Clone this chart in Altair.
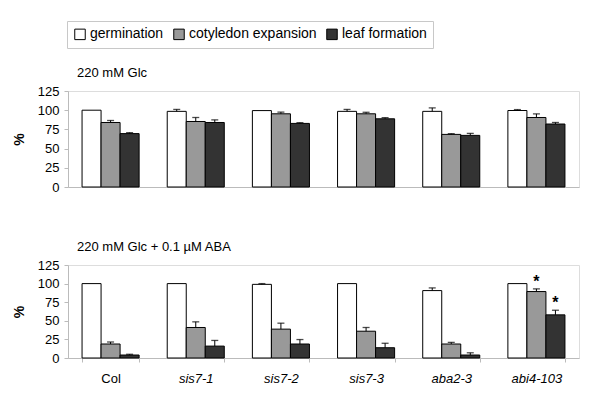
import altair as alt
import pandas as pd

genotypes = ["Col", "sis7-1", "sis7-2", "sis7-3", "aba2-3", "abi4-103"]
series = ["germination", "cotyledon expansion", "leaf formation"]
colors = ["#ffffff", "#999999", "#333333"]

glc_germ = [100, 98.5, 99.5, 98.5, 98.5, 99.6]
glc_germ_err = [0, 2.5, 0, 2.5, 4.5, 1.2]
glc_cot = [84, 85.3, 95.3, 95.3, 68.5, 90.5]
glc_cot_err = [2.6, 5.2, 2.2, 2.0, 1.0, 4.7]
glc_leaf = [69.5, 84, 82.8, 88.8, 67.2, 82]
glc_leaf_err = [1.3, 3.4, 1.0, 1.5, 2.6, 2.0]

aba_germ = [100, 100, 99, 100, 90.6, 100]
aba_germ_err = [0, 0, 1.0, 0, 3.6, 0]
aba_cot = [18.8, 41, 38.8, 36, 18.8, 89.3]
aba_cot_err = [2.7, 7.6, 8.0, 5.0, 2.2, 3.6]
aba_leaf = [4, 16, 18.8, 13.8, 4, 58]
aba_leaf_err = [1.0, 7.6, 6.0, 6.0, 3.0, 6.2]

star_genotype = ["abi4-103", "abi4-103"]
star_series = ["cotyledon expansion", "leaf formation"]

y_ticks = [0, 25, 50, 75, 100, 125]


def make_df(vals_errs):
    rows = []
    for s, (vals, errs) in zip(series, vals_errs):
        for g, v, e in zip(genotypes, vals, errs):
            rows.append({"genotype": g, "series": s, "value": v, "err": e, "hi": v + e})
    return pd.DataFrame(rows)


df_glc = make_df([(glc_germ, glc_germ_err), (glc_cot, glc_cot_err), (glc_leaf, glc_leaf_err)])
df_aba = make_df([(aba_germ, aba_germ_err), (aba_cot, aba_cot_err), (aba_leaf, aba_leaf_err)])
df_aba["star"] = [
    "*" if (g, s) in set(zip(star_genotype, star_series)) else ""
    for g, s in zip(df_aba["genotype"], df_aba["series"])
]

FONT = "Liberation Sans"
GRID_GRAY = "#bbbbbb"


def panel(df, title, show_x, legend, height):
    x_axis = alt.Axis(
        title=None,
        labels=show_x,
        ticks=show_x,
        tickBand="extent",
        tickSize=4,
        tickColor=GRID_GRAY,
        domainColor=GRID_GRAY,
        labelFontSize=13,
        labelColor="black",
        labelFont=FONT,
        labelPadding=10,
        labelAngle=0,
        labelFontStyle={"expr": "datum.value == 'Col' ? 'normal' : 'italic'"},
    )
    y_axis = alt.Axis(values=y_ticks, title="%", grid=False,
                      labelOverlap=False,
                      tickSize=4, tickColor=GRID_GRAY, domainColor=GRID_GRAY,
                      labelFontSize=13, labelColor="black", labelFont=FONT,
                      labelPadding=5,
                      titleFontSize=14, titleFont=FONT, titleFontWeight="bold",
                      titleColor="black", titlePadding=11)
    base = alt.Chart(df).encode(
        x=alt.X("genotype:N", sort=genotypes,
                scale=alt.Scale(paddingInner=0.33, paddingOuter=0.165),
                axis=x_axis),
        xOffset=alt.XOffset("series:N", sort=series,
                            scale=alt.Scale(domain=series, paddingInner=0, paddingOuter=0)),
    )
    y_scale = alt.Scale(domain=[0, 125], nice=False)
    bars = base.mark_bar(stroke="black", strokeWidth=1).encode(
        y=alt.Y("value:Q", scale=y_scale, axis=y_axis),
        color=alt.Color("series:N", sort=series,
                        scale=alt.Scale(domain=series, range=colors),
                        legend=legend),
    )
    errf = base.transform_filter("datum.err > 0")
    rules = errf.mark_rule(color="black", strokeWidth=1).encode(
        y=alt.Y("value:Q", scale=y_scale, axis=y_axis), y2="hi:Q")
    caps = errf.mark_tick(color="black", size=7, thickness=1.3).encode(
        y=alt.Y("hi:Q", scale=y_scale, axis=y_axis))
    layers = [bars, rules, caps]
    if "star" in df.columns:
        stars = base.transform_filter("datum.star != ''").mark_text(
            fontSize=16, fontWeight="bold", font=FONT, color="black",
            baseline="middle", dy=-7).encode(
            y=alt.Y("hi:Q", scale=y_scale, axis=y_axis), text="star:N")
        layers.append(stars)
    return alt.layer(*layers).properties(
        width=511, height=height,
        title=alt.TitleParams(title, anchor="start", frame="group", dx=9, fontSize=13,
                              font=FONT, fontWeight="normal", color="black", offset=5),
    )


legend = alt.Legend(
    title=None, orient="none", direction="horizontal",
    legendX=-1, legendY=-70,
    symbolType="square", symbolSize=110, symbolStrokeColor="black",
    symbolStrokeWidth=1, symbolOpacity=1,
    labelFontSize=14, labelFont=FONT, labelColor="black",
    columnPadding=7, labelOffset=3,
    strokeColor="#c8c8c8", padding=6, fillColor="white",
)

top = panel(df_glc, "220 mM Glc", False, legend, 96)
bottom = panel(df_aba, "220 mM Glc + 0.1 µM ABA", True, legend, 93)

chart = alt.vconcat(top, bottom, spacing=45).properties(
    padding={"left": 3, "top": 12, "right": 5, "bottom": 5}
).configure_view(stroke=GRID_GRAY, strokeWidth=1).configure(
    background="white"
)

chart.save("out.html", embed_options={"renderer": "svg", "actions": False})
